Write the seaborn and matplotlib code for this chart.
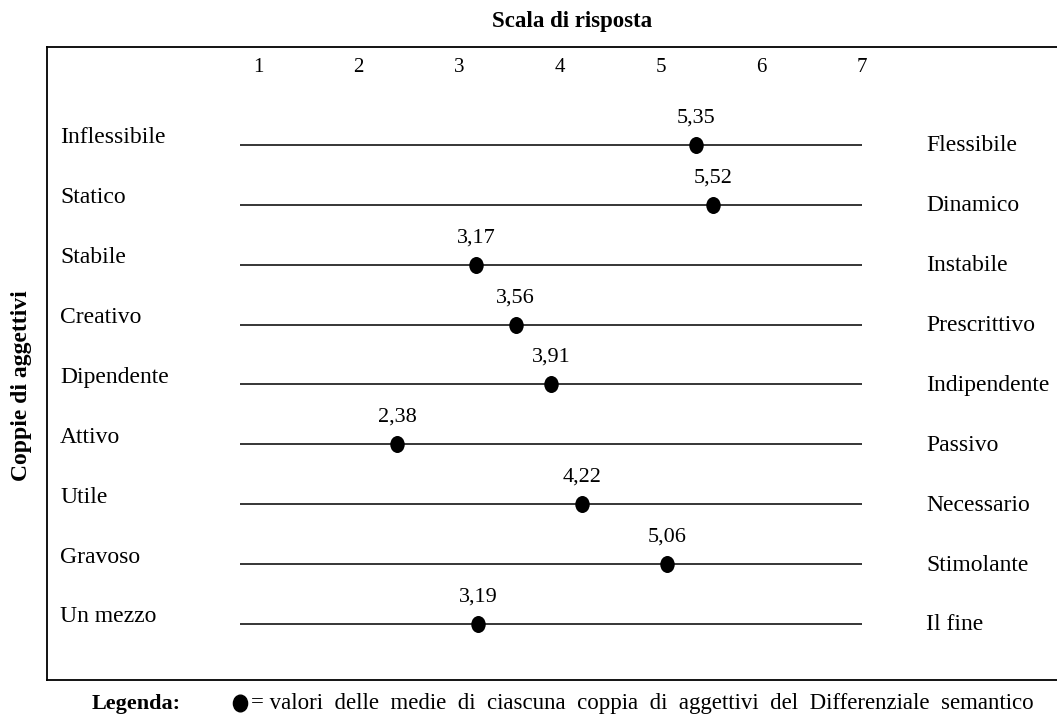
import matplotlib
matplotlib.use("Agg")
import matplotlib.pyplot as plt
import seaborn as sns
import pandas as pd
import numpy as np
from matplotlib.path import Path
from matplotlib.lines import Line2D

# ---- data ----
left_adj = ["Inflessibile", "Statico", "Stabile", "Creativo", "Dipendente",
            "Attivo", "Utile", "Gravoso", "Un mezzo"]
right_adj = ["Flessibile", "Dinamico", "Instabile", "Prescrittivo", "Indipendente",
             "Passivo", "Necessario", "Stimolante", "Il fine"]
means = [5.35, 5.52, 3.17, 3.56, 3.91, 2.38, 4.22, 5.06, 3.19]
scale_ticks = [1, 2, 3, 4, 5, 6, 7]

df = pd.DataFrame({"left": left_adj, "right": right_adj, "mean": means,
                   "row": np.arange(len(means))})

sns.set_theme(style="white")
plt.rcParams["font.family"] = ["Liberation Serif", "DejaVu Serif"]
plt.rcParams["text.color"] = "black"

W, H = 1057, 714
fig = plt.figure(figsize=(W / 100, H / 100), dpi=100)

# axes frame in pixels
ax_l, ax_r, ax_t, ax_b = 47, 1060, 47, 680
ax = fig.add_axes([ax_l / W, 1 - ax_b / H, (ax_r - ax_l) / W, (ax_b - ax_t) / H])

# pixel mapping: value 1 -> 258 px, 7 -> 862 px ; row 0 -> 145 px, row 8 -> 624 px
ppu = (862 - 258) / 6.0
ppr = (624 - 145) / 8.0
ax.set_xlim(1 + (ax_l - 258) / ppu, 1 + (ax_r - 258) / ppu)
ax.set_ylim((ax_b - 145) / ppr, (ax_t - 145) / ppr)  # inverted

# horizontal scale lines
x0 = 1 + (240 - 258) / ppu
ax.hlines(df["row"], x0, 7, color="black", lw=1.1)

# ellipse marker
circ = Path.unit_circle()
ell = Path(circ.vertices * np.array([0.85, 1.0]), circ.codes)
sns.scatterplot(data=df, x="mean", y="row", marker=ell, s=150, color="black",
                edgecolor="black", linewidth=0, ax=ax, zorder=3, legend=False)

fs = 17
for _, r in df.iterrows():
    ax.text(1 + (60 - 258) / ppu, r["row"] - 7 / ppr, r["left"], ha="left",
            va="center", fontsize=fs)
    ax.text(1 + (926 - 258) / ppu, r["row"] + 1 / ppr, r["right"], ha="left",
            va="center", fontsize=fs)
    ax.text(r["mean"], r["row"] - 27 / ppr, f"{r['mean']:.2f}".replace(".", ","),
            ha="center", va="center", fontsize=16)

for t in scale_ticks:
    ax.text(t, (68 - 145) / ppr, str(t), ha="center", va="center", fontsize=15)

ax.set_xticks([])
ax.set_yticks([])
ax.set_xlabel("")
ax.set_ylabel("")
for side in ["left", "top", "bottom"]:
    ax.spines[side].set_visible(True)
    ax.spines[side].set_color("black")
    ax.spines[side].set_linewidth(1.3)
ax.spines["right"].set_visible(False)

fig.text(572 / W, 1 - 22 / H, "Scala di risposta", ha="center", va="center",
         fontsize=16.5, fontweight="bold")
fig.text(22 / W, 1 - 386 / H, "Coppie di aggettivi", ha="center", va="center",
         rotation=90, fontsize=17, fontweight="bold")
fig.text(92 / W, 1 - 704 / H, "Legenda:", ha="left", va="center",
         fontsize=16, fontweight="bold")
fig.add_artist(Line2D([240 / W], [1 - 703 / H], marker=ell, markersize=12,
                      color="black", linestyle="none", transform=fig.transFigure))
fig.text(251 / W, 1 - 703 / H,
         "= valori  delle  medie  di  ciascuna  coppia  di  aggettivi  del  Differenziale  semantico",
         ha="left", va="center", fontsize=16.5)

fig.savefig("out.png", dpi=100)
